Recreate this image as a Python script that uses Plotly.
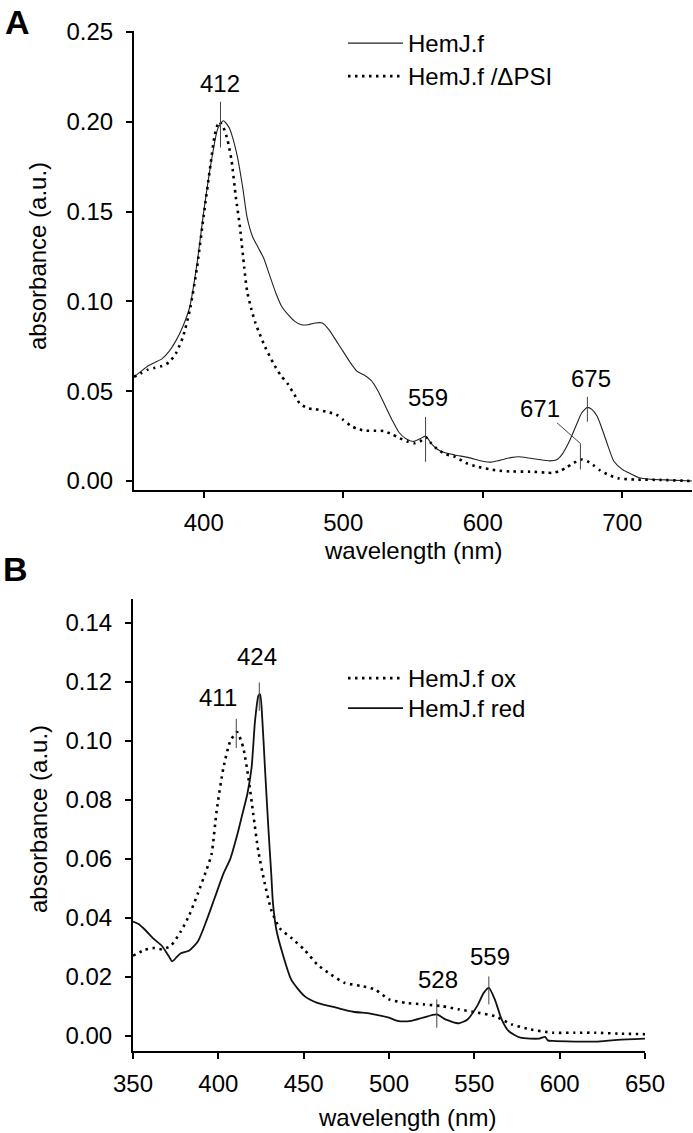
import plotly.graph_objects as go

# ---------------- Panel A data ----------------
a_solid_nm = [350, 355, 360, 365, 370, 375, 380, 385, 390, 395, 400, 405, 410, 414, 418, 420,
              424, 428, 431, 435, 439, 443, 447, 452, 456, 460, 465, 470, 475, 480, 485, 490,
              495, 500, 505, 510, 515, 520, 525, 530, 535, 540, 545, 550, 555, 559, 563, 567,
              572, 580, 590, 600, 606, 612, 620, 626, 633, 640, 648, 653, 657, 662, 667, 671,
              675, 678, 682, 686, 690, 694, 700, 706, 712, 720, 735, 750]
a_solid_abs = [0.058, 0.061, 0.064, 0.066, 0.068, 0.072, 0.078, 0.086, 0.097, 0.120, 0.150, 0.176,
               0.196, 0.2005, 0.197, 0.193, 0.181, 0.163, 0.147, 0.136, 0.130, 0.124, 0.115, 0.104,
               0.097, 0.093, 0.089, 0.087, 0.087, 0.088, 0.088, 0.084, 0.078, 0.072, 0.066, 0.061,
               0.059, 0.056, 0.050, 0.042, 0.034, 0.027, 0.0235, 0.022, 0.0235, 0.025, 0.021, 0.018,
               0.016, 0.0145, 0.013, 0.011, 0.0105, 0.0115, 0.013, 0.0135, 0.0128, 0.012, 0.0112,
               0.0118, 0.015, 0.022, 0.031, 0.038, 0.041, 0.040, 0.036, 0.028, 0.019, 0.011, 0.0065,
               0.004, 0.0018, 0.001, 0.0005, 0.0]

a_dot_nm = [350, 355, 360, 365, 370, 375, 380, 385, 390, 395, 400, 405, 408, 411, 414, 417, 420,
            423, 426, 429, 431, 434, 437, 440, 444, 450, 455, 460, 465, 469, 475, 480, 488, 495,
            500, 505, 510, 516, 522, 529, 535, 540, 546, 551, 555, 559, 563, 567, 573, 580, 588,
            596, 605, 612, 620, 634, 645, 650, 655, 660, 665, 671, 675, 679, 684, 690, 697, 710,
            728, 750]
a_dot_abs = [0.058, 0.060, 0.062, 0.063, 0.064, 0.066, 0.071, 0.080, 0.095, 0.118, 0.148, 0.177,
             0.193, 0.200, 0.197, 0.190, 0.178, 0.158, 0.141, 0.119, 0.106, 0.096, 0.088, 0.082,
             0.0746, 0.0654, 0.059, 0.0543, 0.048, 0.043, 0.0404, 0.040, 0.0385, 0.037, 0.034,
             0.031, 0.029, 0.028, 0.028, 0.0278, 0.026, 0.024, 0.022, 0.021, 0.022, 0.0245, 0.021,
             0.018, 0.015, 0.0135, 0.010, 0.008, 0.0065, 0.0057, 0.0053, 0.0052, 0.0047, 0.0045,
             0.0055, 0.0075, 0.010, 0.012, 0.011, 0.009, 0.006, 0.0035, 0.0015, 0.0008, 0.0006, 0.0]

a_peak_labels = ["412", "559", "675", "671"]
a_label_nm = [411.7, 561.0, 677.3, 640.7]
a_label_abs = [0.2211, 0.0467, 0.0572, 0.0406]
a_mark_nm = [412, 559, 675]
a_mark_lo = [0.1856, 0.0107, 0.0330]
a_mark_hi = [0.2111, 0.0357, 0.0469]
a_leader_nm = [653.2, 670.0, 670.0]
a_leader_abs = [0.0324, 0.0209, 0.0065]

# ---------------- Panel B data ----------------
b_red_nm = [350, 353, 357, 362, 367, 371, 373, 376, 378, 383, 388, 393, 398, 403, 407, 411, 414,
            417, 419.5, 421.5, 423.5, 424.5, 425.5, 427.3, 429.3, 431, 432, 434, 437.6, 442.8,
            450.5, 458, 469, 479, 489, 500, 505, 513, 520, 528, 533, 541, 546, 551.6, 555.5,
            558.5, 562, 566, 570, 577, 588, 591.5, 593, 596, 609, 621, 634, 650]
b_red_abs = [0.0388, 0.038, 0.036, 0.033, 0.0305, 0.027, 0.0253, 0.027, 0.028, 0.029, 0.032, 0.039,
             0.047, 0.055, 0.060, 0.068, 0.075, 0.082, 0.091, 0.1068, 0.1153, 0.1158, 0.110, 0.091,
             0.0706, 0.055, 0.045, 0.036, 0.028, 0.019, 0.0135, 0.0112, 0.0096, 0.0082, 0.0076,
             0.0062, 0.0051, 0.0051, 0.0062, 0.0073, 0.0056, 0.0043, 0.0056, 0.0101, 0.0146,
             0.0163, 0.0124, 0.0056, 0.0017, -0.0006, -0.0009, -0.0003, -0.0015, -0.0017, -0.0019,
             -0.0019, -0.0013, -0.0009]

b_ox_nm = [350, 357, 362, 367, 372, 378, 383, 388, 393, 396, 399, 403, 407, 411, 414.6, 417.6,
           420.5, 423.4, 427.2, 431, 436, 443, 450.5, 458, 466, 474, 484, 492, 500, 510, 520, 531,
           541, 552, 562, 572, 583, 596, 609, 621, 634, 650]
b_ox_abs = [0.0272, 0.0292, 0.0298, 0.0294, 0.0305, 0.0354, 0.041, 0.0483, 0.0562, 0.0615, 0.0763,
            0.0909, 0.0999, 0.103, 0.0977, 0.0876, 0.0751, 0.0627, 0.0517, 0.0427, 0.0365, 0.0331,
            0.0292, 0.0242, 0.0208, 0.018, 0.0169, 0.0157, 0.0124, 0.0112, 0.0107, 0.0101, 0.009,
            0.0079, 0.0067, 0.0039, 0.0022, 0.0011, 0.0011, 0.0011, 0.0008, 0.0006]

b_peak_labels = ["424", "411", "528", "559"]
b_label_nm = [422.7, 399.8, 528.7, 559.2]
b_label_abs = [0.1285, 0.1146, 0.019, 0.0268]
b_mark_nm = [424, 410.5, 528, 558.5]
b_mark_lo = [0.1102, 0.0976, 0.0028, 0.0107]
b_mark_hi = [0.1198, 0.1075, 0.0124, 0.0202]

a_xticks = [400, 500, 600, 700]
a_yticks = [0.00, 0.05, 0.10, 0.15, 0.20, 0.25]
b_xticks = [350, 400, 450, 500, 550, 600, 650]
b_yticks = [0.00, 0.02, 0.04, 0.06, 0.08, 0.10, 0.12, 0.14]

FONT = "Liberation Sans, Arial, sans-serif"
FS = 24
W, H = 693, 1133
DOT = "2.5px,4.5px"

fig = go.Figure()

fig.add_trace(go.Scatter(x=a_solid_nm, y=a_solid_abs, mode="lines", name="HemJ.f",
                         line=dict(color="#222222", width=1.1, shape="spline", smoothing=0.6),
                         xaxis="x", yaxis="y", legend="legend"))
fig.add_trace(go.Scatter(x=a_dot_nm, y=a_dot_abs, mode="lines", name="HemJ.f /ΔPSI",
                         line=dict(color="#000000", width=2.6, dash=DOT, shape="spline", smoothing=0.6),
                         xaxis="x", yaxis="y", legend="legend2"))
fig.add_trace(go.Scatter(x=b_ox_nm, y=b_ox_abs, mode="lines", name="HemJ.f ox",
                         line=dict(color="#000000", width=2.6, dash=DOT, shape="spline", smoothing=0.6),
                         xaxis="x2", yaxis="y2", legend="legend3"))
fig.add_trace(go.Scatter(x=b_red_nm, y=b_red_abs, mode="lines", name="HemJ.f red",
                         line=dict(color="#111111", width=1.8, shape="spline", smoothing=0.6),
                         xaxis="x2", yaxis="y2", legend="legend4"))

shapes = []
for xm, lo, hi in zip(a_mark_nm, a_mark_lo, a_mark_hi):
    shapes.append(dict(type="line", xref="x", yref="y", x0=xm, x1=xm, y0=lo, y1=hi,
                       line=dict(color="#444444", width=1)))
for i in range(len(a_leader_nm) - 1):
    shapes.append(dict(type="line", xref="x", yref="y",
                       x0=a_leader_nm[i], x1=a_leader_nm[i + 1],
                       y0=a_leader_abs[i], y1=a_leader_abs[i + 1],
                       line=dict(color="#444444", width=1)))
for xm, lo, hi in zip(b_mark_nm, b_mark_lo, b_mark_hi):
    shapes.append(dict(type="line", xref="x2", yref="y2", x0=xm, x1=xm, y0=lo, y1=hi,
                       line=dict(color="#444444", width=1)))

annotations = []
for t, xn, yv in zip(a_peak_labels, a_label_nm, a_label_abs):
    annotations.append(dict(text=t, x=xn, y=yv, xref="x", yref="y", showarrow=False,
                            xanchor="center", yanchor="middle",
                            font=dict(size=FS, family=FONT, color="black")))
for t, xn, yv in zip(b_peak_labels, b_label_nm, b_label_abs):
    annotations.append(dict(text=t, x=xn, y=yv, xref="x2", yref="y2", showarrow=False,
                            xanchor="center", yanchor="middle",
                            font=dict(size=FS, family=FONT, color="black")))

def px(xp, yp):
    return xp / W, 1 - yp / H

# panel letters
for letter, (xp, yp) in [("A", (17, 22)), ("B", (15, 569))]:
    x, y = px(xp, yp)
    annotations.append(dict(text="<b>" + letter + "</b>", x=x, y=y, xref="paper", yref="paper",
                            showarrow=False, xanchor="center", yanchor="middle",
                            font=dict(size=34, family=FONT, color="black")))
# axis titles
for txt, (xp, yp), ang in [("absorbance (a.u.)", (38, 256), -90),
                           ("wavelength (nm)", (413, 550), 0),
                           ("absorbance (a.u.)", (38, 819), -90),
                           ("wavelength (nm)", (407, 1117), 0)]:
    x, y = px(xp, yp)
    annotations.append(dict(text=txt, x=x, y=y, xref="paper", yref="paper", showarrow=False,
                            xanchor="center", yanchor="middle", textangle=ang,
                            font=dict(size=FS, family=FONT, color="black")))

axis_common = dict(showline=True, linewidth=2, linecolor="black", ticks="outside",
                   ticklen=6, tickwidth=2, tickcolor="black", showgrid=False, zeroline=False,
                   automargin=False,
                   tickfont=dict(size=FS, family=FONT, color="black"))

def leg(xp, ytop):
    return dict(x=xp / W, y=1 - ytop / H, xanchor="left", yanchor="top",
                font=dict(size=FS, family=FONT, color="black"), bgcolor="rgba(0,0,0,0)",
                tracegroupgap=0, itemwidth=55)

fig.update_layout(
    width=W, height=H,
    margin=dict(l=0, r=0, t=0, b=0, autoexpand=False),
    paper_bgcolor="white", plot_bgcolor="white",
    font=dict(family=FONT, size=FS, color="black"),
    xaxis=dict(domain=[134 / W, 692 / W], range=[350, 750], tickvals=a_xticks,
               anchor="y", ticklabelstandoff=4, **axis_common),
    yaxis=dict(domain=[1 - 490 / H, 1 - 31 / H], range=[-0.005, 0.2505], tickvals=a_yticks,
               tickformat=".2f", anchor="x", ticklabelstandoff=8, **axis_common),
    xaxis2=dict(domain=[133 / W, 645 / W], range=[350, 650], tickvals=b_xticks,
                anchor="y2", ticklabelstandoff=4, **axis_common),
    yaxis2=dict(domain=[1 - 1051 / H, 1 - 599 / H], range=[-0.0051, 0.1481], tickvals=b_yticks,
                tickformat=".2f", anchor="x2", ticklabelstandoff=8, **axis_common),
    legend=leg(343, 21),
    legend2=leg(343, 54),
    legend3=leg(343, 656),
    legend4=leg(343, 686),
    shapes=shapes,
    annotations=annotations,
    showlegend=True,
)

fig.write_html("out.html", config={"displayModeBar": False},
               post_script="document.body.style.margin='0px';")
